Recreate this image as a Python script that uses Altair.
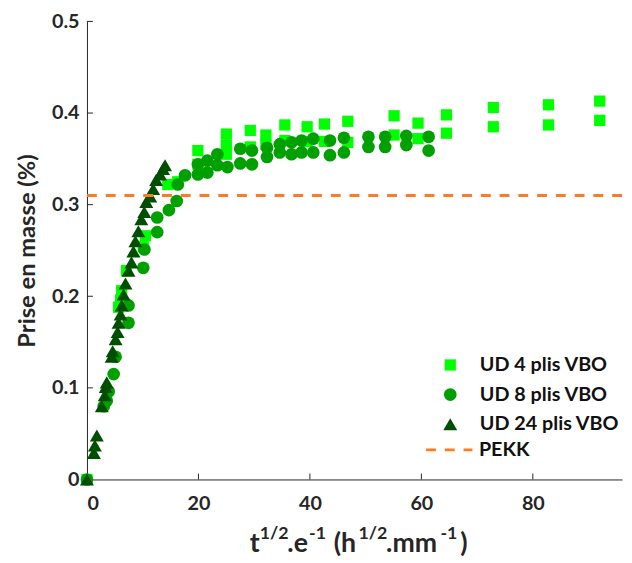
import altair as alt
import pandas as pd

# ---------------- data ----------------
series = ["UD 4 plis VBO", "UD 8 plis VBO", "UD 24 plis VBO"]

sq_x = [0, 5.67, 6.03, 6.21, 7.09, 10.1, 10.5, 14.5, 16.3, 19.9, 19.9,
        25.0, 25.0, 25.0, 29.3, 29.3, 32.1, 32.1, 35.5, 35.5, 39.5, 39.5,
        42.6, 42.6, 46.8, 46.8, 55.1, 55.1, 59.4, 59.4, 64.5, 64.5,
        72.9, 72.9, 82.8, 82.8, 92.0, 92.0]
sq_y = [0, 0.188, 0.196, 0.206, 0.228, 0.254, 0.266, 0.322, 0.325, 0.359, 0.344,
        0.377, 0.365, 0.355, 0.381, 0.363, 0.376, 0.366, 0.387, 0.370, 0.385, 0.369,
        0.388, 0.369, 0.391, 0.368, 0.397, 0.376, 0.389, 0.372, 0.398, 0.378,
        0.406, 0.385, 0.409, 0.387, 0.413, 0.392]

ci_x = [0, 3.01, 3.55, 3.90, 4.79, 5.14, 7.45, 7.45, 10.1, 10.3, 12.6, 12.6,
        14.7, 16.1, 16.3, 17.6, 19.9, 19.9, 21.6, 21.6, 23.4, 23.4, 25.2,
        27.5, 27.5, 29.6, 29.6, 32.3, 32.3, 34.6, 34.6, 36.7, 36.7, 38.5, 38.5,
        40.6, 40.6, 43.6, 43.6, 46.1, 46.1, 50.5, 50.5, 53.5, 53.5, 57.3, 57.3,
        61.3, 61.3]
ci_y = [0, 0.080, 0.086, 0.096, 0.115, 0.134, 0.171, 0.190, 0.231, 0.251, 0.270, 0.286,
        0.294, 0.304, 0.322, 0.332, 0.344, 0.333, 0.335, 0.348, 0.355, 0.343, 0.341,
        0.361, 0.345, 0.359, 0.344, 0.352, 0.362, 0.366, 0.357, 0.355, 0.368, 0.357, 0.370,
        0.372, 0.357, 0.370, 0.354, 0.373, 0.357, 0.374, 0.363, 0.374, 0.363, 0.375, 0.365,
        0.374, 0.359]

tr_x = [0, 1.24, 1.42, 1.77, 2.66, 3.19, 3.37, 3.55, 4.43, 4.61, 5.14, 5.50,
        5.67, 6.03, 6.21, 6.56, 6.91, 7.45, 7.98, 8.33, 8.69, 9.22, 9.75, 10.28,
        10.64, 11.35, 11.88, 12.41, 13.12, 13.65, 14.01]
tr_y = [0, 0.029, 0.037, 0.048, 0.080, 0.092, 0.101, 0.106, 0.134, 0.140, 0.153, 0.161,
        0.171, 0.180, 0.190, 0.202, 0.214, 0.228, 0.237, 0.249, 0.260, 0.271, 0.284, 0.292,
        0.303, 0.309, 0.317, 0.327, 0.333, 0.339, 0.343]

pekk_value = 0.31
x_tick_values = [0, 20, 40, 60, 80]
y_tick_values = [0, 0.1, 0.2, 0.3, 0.4, 0.5]

colors = ["#00FF00", "#00A000", "#004E00"]
shapes = ["square", "circle", "triangle-up"]
sizes = [130, 200, 270]
pekk_color = "#FF7A22"
axis_color = "#262626"
FONT = "Lato"

# ---------------- tables ----------------
df = pd.concat([
    pd.DataFrame({"x": sq_x, "y": sq_y, "series": series[0]}),
    pd.DataFrame({"x": ci_x, "y": ci_y, "series": series[1]}),
    pd.DataFrame({"x": tr_x, "y": tr_y, "series": series[2]}),
], ignore_index=True)

pekk_df = pd.DataFrame({"name": ["PEKK"], "y": [pekk_value]})
xt_df = pd.DataFrame({"x": x_tick_values[1:]})
yt_df = pd.DataFrame({"y": y_tick_values[1:]})

W, H = 542, 464
xs = alt.Scale(domain=[0, 96], nice=False, zero=False)
ys = alt.Scale(domain=[0, 0.5], nice=False, zero=False)

leg = alt.Legend(title=None, orient="none", legendX=358, legendY=338,
                 labelFont=FONT, labelFontSize=20, labelFontWeight="bold",
                 labelColor="#111111", labelOffset=20, rowPadding=10, padding=0)

points = alt.Chart(df).mark_point(filled=True, opacity=1, strokeWidth=0).encode(
    x=alt.X("x:Q", scale=xs,
            axis=alt.Axis(values=x_tick_values, ticks=False, grid=False, title=None,
                          labelPadding=14, format="d")),
    y=alt.Y("y:Q", scale=ys,
            axis=alt.Axis(values=y_tick_values, ticks=False, grid=False,
                          title="Prise en masse (%)", titlePadding=12,
                          labelPadding=8,
                          labelExpr="datum.value == 0 ? '0' : format(datum.value, '.1f')")),
    color=alt.Color("series:N", scale=alt.Scale(domain=series, range=colors), legend=leg),
    shape=alt.Shape("series:N", scale=alt.Scale(domain=series, range=shapes), legend=leg),
    size=alt.Size("series:N", scale=alt.Scale(domain=series, range=sizes), legend=leg),
)

pekk = alt.Chart(pekk_df).mark_rule(color=pekk_color, strokeWidth=3).encode(
    y=alt.Y("y:Q", scale=ys),
    strokeDash=alt.StrokeDash("name:N", scale=alt.Scale(range=[[10, 9]]),
                              legend=alt.Legend(title=None, orient="none", legendX=342, legendY=409,
                                                symbolType="stroke", symbolSize=2209,
                                                symbolDash=[10, 9],
                                                symbolStrokeColor=pekk_color, symbolStrokeWidth=3,
                                                labelFont=FONT, labelFontSize=20,
                                                labelFontWeight="bold", labelColor="#111111",
                                                labelOffset=5, padding=0)),
)

xticks = alt.Chart(xt_df).mark_rule(color=axis_color, strokeWidth=1).encode(
    x=alt.X("x:Q", scale=xs), y=alt.value(H), y2=alt.value(H - 6))
yticks = alt.Chart(yt_df).mark_rule(color=axis_color, strokeWidth=1).encode(
    y=alt.Y("y:Q", scale=ys), x=alt.value(0), x2=alt.value(6))

# x title with superscripts, built from text pieces
pieces = [("t", False, 165), ("1/2", True, 175), (".e", False, 203), ("-1", True, 225),
          ("(h", False, 250), ("1/2", True, 275), (".mm", False, 303), ("-1", True, 358),
          (")", False, 378)]
title_layers = []
for txt, sup, px in pieces:
    title_layers.append(
        alt.Chart(pekk_df).mark_text(
            text=txt, align="left", baseline="alphabetic", font=FONT, fontWeight="bold",
            fontSize=18 if sup else 27, color=axis_color,
        ).encode(x=alt.value(px), y=alt.value(524 if sup else 537))
    )

chart = alt.layer(points, xticks, yticks, pekk, *title_layers).properties(
    width=W, height=H,
    autosize=alt.AutoSizeParams(type="none"),
    padding={"left": 80, "top": 10, "right": 2, "bottom": 80},
).configure_view(stroke=None).configure_axis(
    domainColor=axis_color, domainWidth=1,
    labelFont=FONT, labelFontSize=20, labelFontWeight="bold", labelColor=axis_color,
    titleFont=FONT, titleFontSize=24, titleFontWeight="bold", titleColor=axis_color,
).resolve_legend(strokeDash="independent")

chart.save("out.html", embed_options={"renderer": "svg", "actions": False})
